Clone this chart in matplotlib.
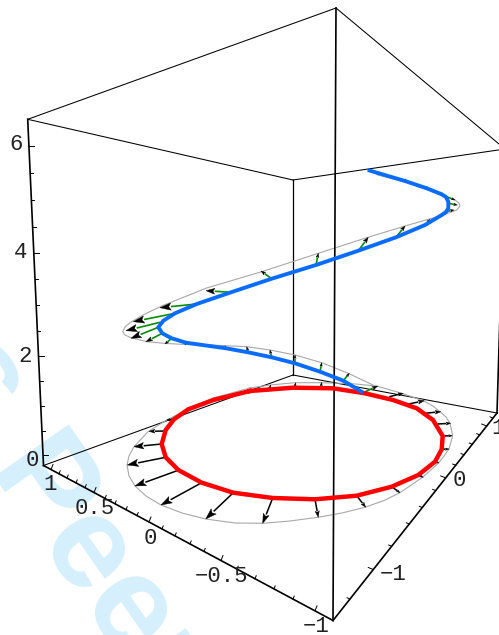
import numpy as np
import matplotlib
matplotlib.use("Agg")
import matplotlib.pyplot as plt

# helix on the cylinder, and the vector tips
blue_curve = [(367.7,170),(405,181),(426.7,188.3),(441.7,194.3),(446,197),(448.3,201.7),(448.3,208.3),(446,212),(441.7,215),
              (425,225),(396,237.3),(358.3,250.7),(316,265),(271.7,278.7),(231,292.3),(196.7,304),(175,313.3),
              (163.3,320.7),(158.3,327.3),(162.3,333.3),(171.7,338.3),(186,342.7),(226,348.3),(248,352.3),
              (271.7,357.3),(295,363.3),(320,371.7),(343.3,380.7),(363.3,392.7)]
gray_curve = [(378,175),(405,182),(426.7,189),(446.7,197.3),(455,200),(459,203),(460,206),(456.7,210),(443.3,215),
              (405,226),(366.7,237.7),(318.3,253.3),(261.7,271.7),(206.7,288),(161.7,306),(143,315),(130,322.7),
              (125,327),(122.7,331.7),(125,335),(130,337.3),(146.7,341.7),(166.7,343.5),(186,344.5),(210,345),(246.7,346.7),
              (270,350),(295,355),(321.7,362.7),(348.3,373.3),(375,386)]
red_curve = [(250,391),(293,387.7),(333,388.3),(365,393.3),(393,400),(416.7,408.3),(433,420),(442.7,436),
             (441.7,449.3),(435,461.7),(418.3,475),(391.7,486.7),(356.7,495.7),(315,499.3),(272.7,498),
             (233.3,492.7),(201.7,482.7),(178.3,470),(165.7,457.3),(161.7,444),(165.7,430),(174,419.3),
             (188.3,409.3),(213.3,400),(250,391)]
gray_ring = [(250,388),(270,385),(295,382.7),(320,382.7),(350,383.5),(376.7,386),(401.7,393.3),(423.3,400.7),(433,406),(440,411.7),
             (446,417),(450,423.3),(452.7,435.7),(449,449),(444,456),(438.3,463.3),(423.3,476.7),(400,492.7),(384,500.5),(365,507.3),
             (342,513),(318,517.3),(290,521),(263.3,523.3),(235,523),(205.7,519),(182,513),(161,505),(146,496),(135,486),(129,476),(127,465),(129,456),(134,446.7),
             (148,431.7),(166.7,420),(186.7,410),(213,398),(250,388)]

# vectors: tail, tip
green_tails = [(376,172.5),(405,181),(426.7,188.3),(441,194),(446.7,196.7),(448.3,203.3),(445,211.7),(440,216),(425,225),(396,237.3),(358.3,250.7),
               (316,265),(271.7,278.7),(231,292.3),(196.7,304),(175,313.3),(160,322.3),(158.3,327.3),
               (162.3,333.3),(171.7,338.3),(186,342.7),(226,348.3),(248.3,352.3),(271.7,357.3),(295,363.3),
               (320,371.7),(343.3,380.7),(363.3,392.7)]
green_tips = [(378,175),(405.5,182.5),(427.5,190),(443,193),(455,200),(457.3,205),(454,210),(445,214),(430,219.3),(405,226),(368.3,237.3),
              (318.3,253.3),(261,271),(206,290.7),(160,307.7),(133.3,321.7),(126,330.7),(131,338.3),
              (146,341.7),(165,344),(185,345),(225,345.7),(246.7,346.7),(270,350),(295,355),
              (321.7,362.7),(349.3,373.3),(377.7,386)]
black_tails = [(233.3,492.7),(201.7,482.7),(179,470),(165.7,457.3),(161.7,444),(165.7,431),(174,419.3),(186,410.5),
               (272.7,498),(315,499.3),(356.7,495.7),(391.7,486.7),(418.3,475),(435,461.7),(441.7,449.3),
               (442.7,436),(437.7,424),(425,413.3),(407.3,404.3),(389.3,396.7),(321,386.7),(295,386),(270,387.3)]
black_tips = [(205.7,519),(161,505),(135,486),(127.3,465),(134,446.7),(149,431.3),(166.7,420),(183,411.5),
              (262.7,523.3),(318.3,517.3),(365.7,507.3),(400,492.7),(423.3,477.3),(439,463),(449,449),
              (452.3,435.7),(450.7,423.3),(440.7,411.7),(424.3,400.7),(403.3,393.3),(321.7,382.3),(295.7,382.7),(270.7,385)]

# box corners
top_left = (27.7,119.3)
top_far = (336,8)
top_back = (293,180)
top_right = (505,149)
floor_left = (43.5,465.5)
floor_back = (293,375)
floor_right = (497,413)
floor_front = (333,620.5)

# ticks, position along the edges
z_tick_y = [146,173.3,200,226.7,253.3,279.3,305,330.7,356,381,406,430.7,455]
z_major_y = [146,253.3,356,455]
x_tick_x = [51,59,67,76,85,94,105,115,126,137,149,162,175,190,204,221,237,255,274,293,315]
x_major_x = [51,94,149,221,315]
y_tick_x = [350,373.3,391.7,409.3,422.3,435.7,445.7,455.7,464,472.3,479.7,486.7,493]
y_major_x = [373.3,445.7,486.7]

tick_labels = ["6","4","2","0","1","0.5","0","\u22120.5","\u22121","\u22121","0","1"]
label_x = [16,21,25,32,50,95,150,222,316,393,459,498]
label_y = [145,252,357,461,485,508,538,577,626,575,480,428]


def on_edge(a, b, x=None, y=None):
    # point on the edge a-b for a given x or y
    if x is not None:
        return (x, a[1] + (x - a[0]) / (b[0] - a[0]) * (b[1] - a[1]))
    return (a[0] + (y - a[1]) / (b[1] - a[1]) * (b[0] - a[0]), y)


def draw_vector(tail, tip, color, lw, z):
    tail = np.array(tail, float)
    tip = np.array(tip, float)
    d = tip - tail
    n = np.hypot(d[0], d[1])
    d = d / n
    p = np.array([-d[1], d[0]])
    hl = min(max(0.35 * n, 3.5), 11)
    hw = 0.33 * hl
    neck = tip - d * hl
    if n > hl:
        ax.plot([tail[0], neck[0]], [tail[1], neck[1]], color=color, lw=lw, zorder=z, solid_capstyle="butt")
    ax.fill([tip[0], (neck + p * hw)[0], (tip - d * hl * 0.8)[0], (neck - p * hw)[0]],
            [tip[1], (neck + p * hw)[1], (tip - d * hl * 0.8)[1], (neck - p * hw)[1]],
            color="black", lw=0.3, zorder=z + 0.1)


def polyline(points, **kw):
    pts = np.array(points)
    ax.plot(pts[:, 0], pts[:, 1], **kw)


fig = plt.figure(figsize=(4.99, 6.35), dpi=100)
ax = fig.add_axes([0, 0, 1, 1])
ax.set_xlim(0, 499)
ax.set_ylim(635, 0)
ax.axis("off")

# watermark
ax.text(-72, 372, "s", family="Liberation Sans", weight="bold", fontsize=95, color="#d5effc",
        rotation=-55, rotation_mode="anchor", ha="left", va="baseline", zorder=0)
ax.text(-16, 475, "Peer", family="Liberation Sans", weight="bold", fontsize=95, color="#d5effc",
        rotation=-55, rotation_mode="anchor", ha="left", va="baseline", zorder=0)

# back of the box
for a, b in [(top_left, top_far), (top_far, top_right), (top_left, top_back), (top_back, top_right),
             (floor_left, floor_back), (floor_back, floor_right)]:
    polyline([a, b], color="black", lw=0.75, zorder=1)
polyline([top_back, floor_back], color="black", lw=0.9, zorder=1)

polyline(gray_ring, color="#a8a8a8", lw=0.8, zorder=2)
polyline(gray_curve, color="#a8a8a8", lw=0.8, zorder=2)

for tail, tip in zip(black_tails, black_tips):
    draw_vector(tail, tip, "black", 1.1, 3)
for tail, tip in zip(green_tails, green_tips):
    draw_vector(tail, tip, "#0a8a0a", 1.2, 3)

# front edges
for a, b in [(top_left, floor_left), (top_far, floor_front), (floor_left, floor_front),
             (floor_front, floor_right), (floor_right, top_right)]:
    polyline([a, b], color="black", lw=1.2, zorder=4)

polyline(red_curve, color="#ff0000", lw=3.2, zorder=5, solid_joinstyle="miter")
polyline(blue_curve, color="#0a6cff", lw=2.8, zorder=6, solid_capstyle="butt")

# ticks
for y in z_tick_y:
    p = on_edge(top_left, floor_left, y=y)
    length = 5 if y in z_major_y else 3
    polyline([p, (p[0] + length, p[1])], color="black", lw=0.7, zorder=4)
for x in x_tick_x:
    p = on_edge(floor_left, floor_front, x=x)
    length = 5 if x in x_major_x else 3
    polyline([p, (p[0] + 0.4 * length, p[1] - length)], color="black", lw=0.7, zorder=4)
for x in y_tick_x:
    p = on_edge(floor_front, floor_right, x=x)
    length = 5 if x in y_major_x else 3
    polyline([p, (p[0] - length, p[1] - 0.4 * length)], color="black", lw=0.7, zorder=4)

for s, x, y in zip(tick_labels, label_x, label_y):
    ax.text(x, y, s, family="Liberation Mono", fontsize=16, color="#222222", ha="center", va="center", zorder=7)

fig.savefig("out.png", dpi=100)
